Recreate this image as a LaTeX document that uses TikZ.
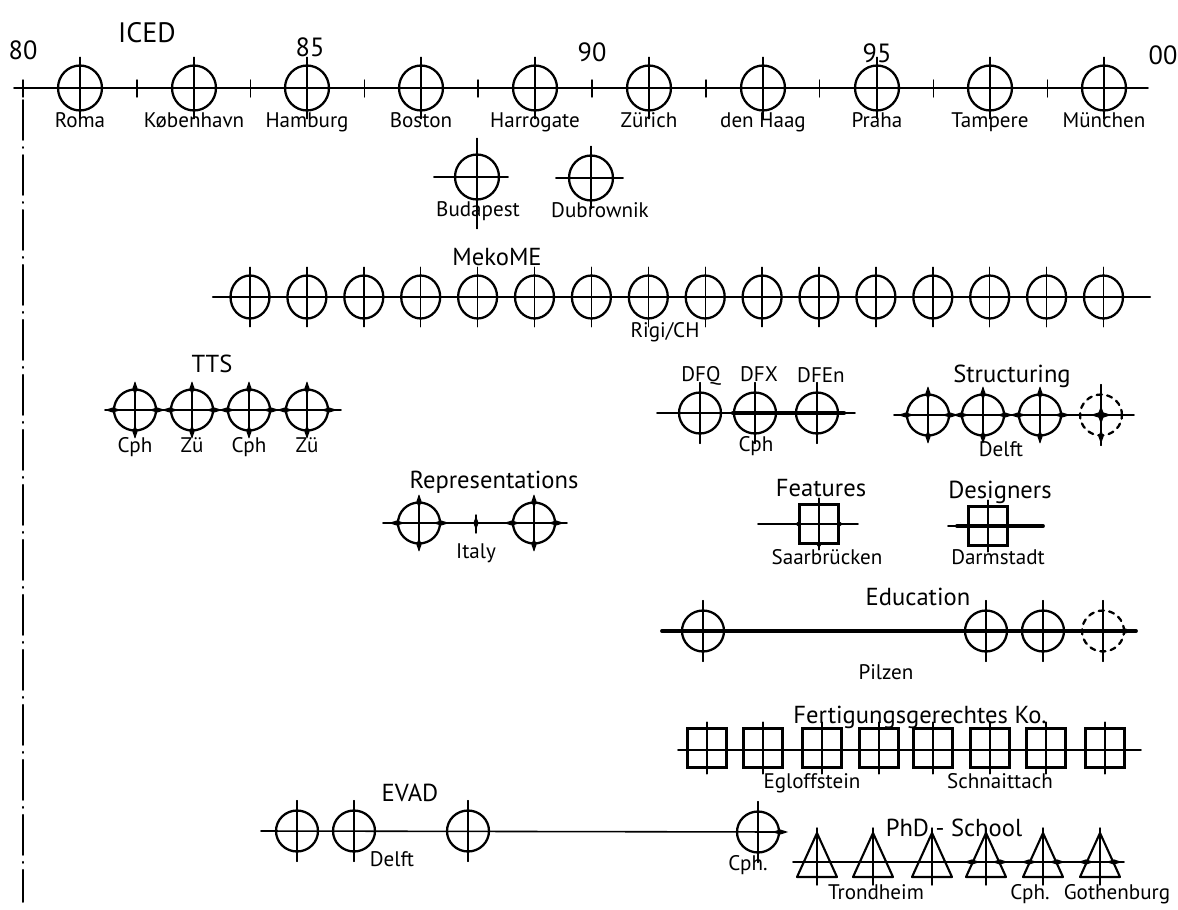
\documentclass[tikz,border=0pt]{standalone}
\usepackage{fontspec}
\setmainfont{PT Sans}
\usetikzlibrary{positioning,shapes.geometric}

\begin{document}
\begin{tikzpicture}[
    x=0.02cm, y=-0.02cm,
    line cap=round,
    axis/.style={line width=0.9pt},
    midaxis/.style={line width=1.4pt},
    heavyaxis/.style={line width=2.2pt},
    tick/.style={line width=0.8pt},
    cross/.style={line width=0.8pt},
    guide/.style={line width=1.1pt, dash pattern=on 0.8cm off 0.14cm on 0.02cm off 0.14cm},
    vbar/.style={append after command={([yshift=#1]\tikzlastnode.north) edge[cross] ([yshift=-#1]\tikzlastnode.south)}},
    vbar/.default=5pt,
    ring/.style={ellipse, draw, line width=1.3pt, minimum width=0.84cm, minimum height=0.82cm, inner sep=0pt},
    meet/.style={ring, vbar},
    iced/.style={ring, minimum width=0.88cm, minimum height=0.9cm, vbar=4pt},
    mekome/.style={ring, minimum width=0.78cm, minimum height=0.86cm, vbar=4pt},
    plan/.style={ring, dashed, vbar},
    work/.style={rectangle, draw, line width=1.2pt, minimum size=0.78cm, inner sep=0pt, vbar=3pt},
    school/.style={line width=1.2pt, line join=round},
    city/.style={font=\fontsize{12}{14}\selectfont, inner sep=1pt, anchor=base},
    series/.style={font=\fontsize{14}{16}\selectfont, inner sep=1pt},
    year/.style={font=\fontsize{15}{17}\selectfont, inner sep=1pt},
    vtip/.pic={\fill (0,-7) -- (2.6,0) -- (0,7) -- (-2.6,0) -- cycle;},
    htip/.pic={\fill (-8,0) -- (0,2.6) -- (8,0) -- (0,-2.6) -- cycle;}
]
\useasboundingbox (0,0) rectangle (1178,910);

% ===== ICED =====
\coordinate (iced-start) at (14,88);
\coordinate (iced-end) at (1148,88);
\draw[axis] (iced-start) -- (iced-end);
\foreach \k in {0,...,9}
    \draw[tick] (23+113.8*\k,80) -- (23+113.8*\k,97);

\node[series, font=\fontsize{16}{18}\selectfont] (iced-title) at (147,33) {ICED};
\node[year] (y80) at (23,50) {80};
\node[year] (y85) at (310,47) {85};
\node[year] (y90) at (592,52) {90};
\node[year] (y95) at (877,53) {95};
\node[year] (y00) at (1163,55) {00};

\foreach \x/\name/\city in {80/roma/Roma, 194/kbh/København, 307/hamburg/Hamburg, 421/boston/Boston,
    535/harrogate/Harrogate, 649/zurich/Zürich, 763/haag/den Haag, 877/praha/Praha,
    990/tampere/Tampere, 1104/munich/München} {
    \node[iced] (\name) at (\x,88) {};
    \node[city] (\name-lbl) at (\x,127) {\city};
}

% extra conferences below the line
\node[iced] (bud) at (477,177) {};
\draw[cross] ([xshift=-0.4cm]bud.west) -- ([xshift=0.16cm]bud.east);
\draw[cross] ([yshift=0.3cm]bud.north) -- ([yshift=-0.56cm]bud.south);
\node[city] (bud-lbl) at (478,216) {Budapest};

\node[iced] (dub) at (591,178) {};
\draw[cross] ([xshift=-0.24cm]dub.west) -- ([xshift=0.18cm]dub.east);
\draw[cross] ([yshift=0.16cm]dub.north) -- ([yshift=-0.05cm]dub.south);
\node[city] (dub-lbl) at (600,217) {Dubrownik};

% ===== MekoME =====
\coordinate (meko-start) at (213,297);
\coordinate (meko-end) at (1150,297);
\draw[midaxis] (meko-start) -- (meko-end);
\foreach \k in {0,...,15}
    \node[mekome] (meko\k) at (250+56.9*\k,297) {};
\node[series] (meko) at (497,257) {MekoME};
\node[city] (rigi) at (665,337) {Rigi/CH};

% ===== TTS =====
\coordinate (tts-start) at (105,410);
\coordinate (tts-end) at (341,410);
\draw[axis] (tts-start) -- (tts-end);
\foreach \x/\city [count=\i] in {135/Cph, 192/Zü, 249/Cph, 307/Zü} {
    \node[ring, vbar=3pt] (tts\i) at (\x,410) {};
    \pic at (tts\i.north) {vtip};
    \pic at (tts\i.south) {vtip};
    \pic at (tts\i.east) {htip};
    \pic at (tts\i.west) {htip};
    \node[city] (tts\i-lbl) at (\x,452) {\city};
}
\node[series] (tts) at (212,364) {TTS};

% ===== REPRESENTATIONS =====
\coordinate (rep-start) at (383,523);
\coordinate (rep-end) at (567,523);
\coordinate (rep-mid) at (476,523);
\draw[axis] (rep-start) -- (rep-end);
\node[ring, vbar=3pt] (rep1) at (419,523) {};
\node[ring, vbar=3pt] (rep2) at (534,523) {};
\foreach \n in {rep1,rep2} {
    \pic at (\n.north) {vtip};
    \pic at (\n.south) {vtip};
    \pic at (\n.east) {htip};
    \pic at (\n.west) {htip};
}
\draw[cross] ([yshift=0.16cm]rep-mid) -- ([yshift=-0.2cm]rep-mid);
\pic at (rep-mid) {vtip};
\node[series] (rep) at (494,482) {Representations};
\node[city] (italy) at (476,558) {Italy};

% ===== DFQ / DFX / DFEn =====
\coordinate (df-start) at (657,413);
\coordinate (df-end) at (855,413);
\draw[axis] (df-start) -- (df-end);
\node[meet] (dfq) at (700,413) {};
\node[meet] (dfx) at (755,413) {};
\node[meet] (dfen) at (817,413) {};
\draw[heavyaxis] (dfx.west) -- ([xshift=0.1cm]dfen.east);
\node[city] (dfq-lbl) at (701,381) {DFQ};
\node[city] (dfx-lbl) at (759,381) {DFX};
\node[city] (dfen-lbl) at (821,382) {DFEn};
\node[city] (df-cph) at (756,451) {Cph};

% ===== STRUCTURING =====
\coordinate (str-start) at (894,415);
\coordinate (str-end) at (1134,415);
\draw[axis] (str-start) -- (str-end);
\foreach \x [count=\i] in {928,983,1040} {
    \node[ring, vbar=3pt] (str\i) at (\x,415) {};
    \pic at (str\i.north) {vtip};
    \pic at (str\i.south) {vtip};
    \pic at (str\i.east) {htip};
    \pic at (str\i.west) {htip};
}
\node[plan] (str4) at (1101,415) {};
\pic[scale=1.3] at (str4) {vtip};
\pic[scale=1.3] at (str4) {htip};
\pic at (str4.south) {vtip};
\node[series] (struct) at (1012,376) {Structuring};
\node[city] (str-delft) at (1001,456) {Delft};

% ===== FEATURES / DESIGNERS =====
\coordinate (feat-start) at (758,524);
\coordinate (feat-end) at (858,524);
\draw[axis] (feat-start) -- (feat-end);
\node[work] (feat) at (819,524) {};
\fill (feat.west) circle (2.2);
\fill (feat.east) circle (2.2);
\fill (feat.south) circle (2.2);
\node[series] (features) at (821,488) {Features};
\node[city] (saar) at (827,564) {Saarbrücken};

\coordinate (des-start) at (948,526);
\coordinate (des-thick) at (957,526);
\coordinate (des-end) at (1043,526);
\draw[axis] (des-start) -- (des-thick);
\draw[heavyaxis] (des-thick) -- (des-end);
\node[work] (des) at (988,526) {};
\node[series] (designers) at (1000,492) {Designers};
\node[city] (darm) at (998,564) {Darmstadt};

% ===== EDUCATION =====
\coordinate (edu-start) at (662,631);
\coordinate (edu-end) at (1136,631);
\draw[heavyaxis] (edu-start) -- (edu-end);
\node[meet] (edu1) at (703,631) {};
\node[meet] (edu2) at (986,631) {};
\node[meet] (edu3) at (1043,631) {};
\node[plan] (edu4) at (1103,631) {};
\pic at (edu4.east) {htip};
\node[series] (edu) at (918,597) {Education};
\node[city] (pilzen) at (886,679) {Pilzen};

% ===== FERTIGUNGSGERECHTES KONSTRUIEREN =====
\coordinate (fk-start) at (678,750);
\coordinate (fk-end) at (1141,750);
\draw[axis] (fk-start) -- (fk-end);
\foreach \x [count=\i] in {707,763,822,879,933,990,1046,1105}
    \node[work] (fk\i) at (\x,748) {};
\node[series] (fk) at (920,717) {Fertigungsgerechtes Ko.};
\node[city] (eglof) at (812,788) {Egloffstein};
\node[city] (schnait) at (1000,788) {Schnaittach};

% ===== EVAD =====
\coordinate (evad-start) at (261,831);
\node[meet] (evad1) at (297,831) {};
\node[meet] (evad2) at (354,831) {};
\node[meet] (evad3) at (468,831) {};
\node[meet] (evad4) at (758,832) {};
\draw[axis] (evad-start) -- (evad4.east);
\pic at (evad4.east) {htip};
\node[series] (evad) at (410,793) {EVAD};
\node[city] (evad-delft) at (392,866) {Delft};
\node[city] (evad-cph) at (748,870) {Cph.};

% ===== PHD SCHOOL =====
\coordinate (phd-start) at (793,862);
\coordinate (phd-end) at (1124,862);
\draw[axis] (phd-start) -- (phd-end);
\foreach \x [count=\i] in {817,873,932,986,1043,1100}
    \coordinate (phd\i) at (\x,862);
\draw[midaxis] (phd2) -- (phd3);
\draw[midaxis] (phd4) -- (phd6);
\foreach \i in {1,...,6} {
    \draw[school] ([shift={(0,-29)}]phd\i) -- ([shift={(20,15)}]phd\i)
        -- ([shift={(-20,15)}]phd\i) -- cycle;
    \draw[cross] ([shift={(0,-34)}]phd\i) -- ([shift={(0,23)}]phd\i);
}
\foreach \i in {4,5,6} {
    \pic at ([xshift=-0.28cm]phd\i) {htip};
    \pic at ([xshift=0.28cm]phd\i) {htip};
}
\node[series] (phd) at (954,828) {PhD - School};
\node[city] (trond) at (876,899) {Trondheim};
\node[city] (phd-cph) at (1030,899) {Cph.};
\node[city] (gothen) at (1117,899) {Gothenburg};

% ===== GUIDE LINE =====
\coordinate (guide-top) at (23,100);
\coordinate (guide-bot) at (23,902);
\draw[guide] (guide-top) -- (guide-bot);

\end{tikzpicture}
\end{document}
